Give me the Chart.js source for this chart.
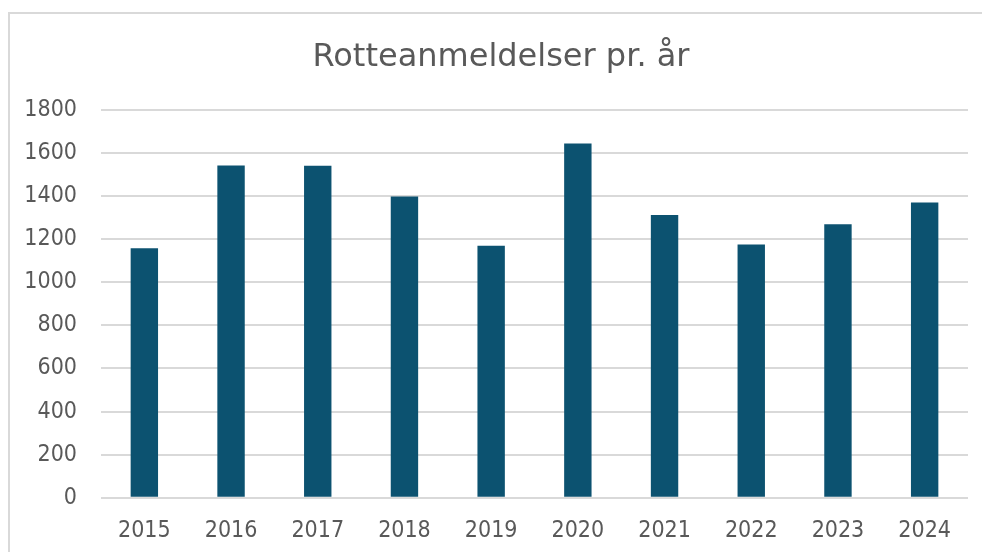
<!DOCTYPE html>
<html>
<head>
<meta charset="utf-8">
<script src="https://cdn.jsdelivr.net/npm/chart.js@4/dist/chart.umd.min.js"></script>
<style>
  html, body { margin: 0; padding: 0; background: #ffffff; }
  #wrap { position: relative; width: 982px; height: 552px; overflow: hidden; }
  #frame { position: absolute; left: 8px; top: 12px; width: 1000px; height: 600px; border: 2px solid #d9d9d9; box-sizing: border-box; }
  canvas { position: absolute; left: 0; top: 0; }
</style>
</head>
<body>
<div id="wrap">
  <div id="frame"></div>
  <canvas id="c" width="982" height="552"></canvas>
</div>
<script>
const titleText = "Rotteanmeldelser pr. år";
const years = ["2015", "2016", "2017", "2018", "2019", "2020", "2021", "2022", "2023", "2024"];
const reports = [1158, 1542, 1541, 1398, 1170, 1645, 1312, 1175, 1270, 1370];
const yTicks = [0, 200, 400, 600, 800, 1000, 1200, 1400, 1600, 1800];

const TICK_FONT = "'DejaVu Sans Condensed', 'DejaVu Sans', sans-serif";
const TITLE_FONT = "'DejaVu Sans', sans-serif";
const TEXT = "#595959";

const titlePlugin = {
  id: 'fixedTitle',
  afterDraw(chart) {
    const ctx = chart.ctx;
    ctx.save();
    ctx.fillStyle = TEXT;
    ctx.font = "32px " + TITLE_FONT;
    ctx.textAlign = 'center';
    ctx.textBaseline = 'alphabetic';
    ctx.fillText(titleText, 501, 66);
    ctx.restore();
  }
};

new Chart(document.getElementById('c'), {
  type: 'bar',
  data: {
    labels: years,
    datasets: [{
      data: reports,
      backgroundColor: '#0c5270',
      borderWidth: 0,
      barPercentage: 0.316,
      categoryPercentage: 1.0
    }]
  },
  plugins: [titlePlugin],
  options: {
    responsive: false,
    animation: false,
    devicePixelRatio: 1,
    layout: { padding: { left: 0, right: 14, top: 110, bottom: 0 } },
    plugins: {
      legend: { display: false },
      tooltip: { enabled: false },
      title: { display: false }
    },
    scales: {
      x: {
        afterFit: (s) => { s.height = 54.3; },
        grid: { display: false, drawTicks: false },
        border: { display: false },
        ticks: { color: TEXT, font: { family: TICK_FONT, size: 23 }, padding: 20, maxRotation: 0 }
      },
      y: {
        min: 0,
        max: 1800,
        afterBuildTicks: (s) => { s.ticks = yTicks.map(v => ({ value: v })); },
        afterFit: (s) => { s.width = 101; },
        grid: { color: '#d9d9d9', lineWidth: 2, drawTicks: false },
        border: { display: false },
        ticks: { color: TEXT, font: { family: TICK_FONT, size: 23 }, padding: 24, callback: (v) => String(v) }
      }
    }
  }
});
</script>
</body>
</html>
